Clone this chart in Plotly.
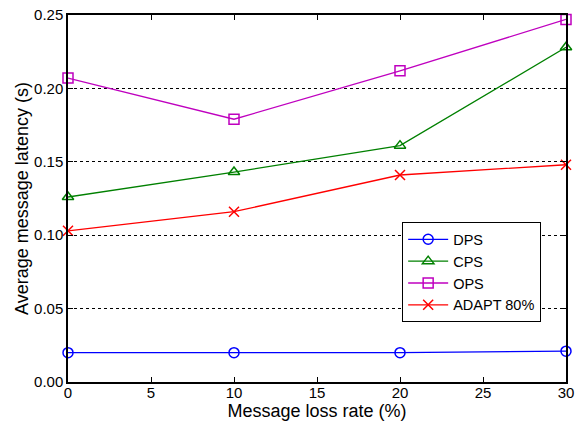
import plotly.graph_objects as go

loss_rate = [0, 10, 20, 30]
dps = [0.020, 0.020, 0.020, 0.021]
cps = [0.126, 0.143, 0.161, 0.228]
ops = [0.207, 0.179, 0.212, 0.247]
adapt = [0.103, 0.116, 0.141, 0.148]

series = [
    ("DPS", dps, "#0000ff", "circle-open"),
    ("CPS", cps, "#008000", "triangle-up-open"),
    ("OPS", ops, "#bf00bf", "square-open"),
    ("ADAPT 80%", adapt, "#ff0000", "x-thin-open"),
]

fig = go.Figure()
for name, vals, color, sym in series:
    fig.add_trace(go.Scatter(
        x=loss_rate, y=vals, name=name, mode="lines+markers",
        line=dict(color=color, width=1.3),
        marker=dict(symbol=sym, size=10, color=color,
                    line=dict(color=color, width=1.5)),
        cliponaxis=False,
    ))

font = "Liberation Sans, Arial, sans-serif"
fig.update_layout(
    width=586, height=424,
    margin=dict(l=68, r=20, t=15, b=42),
    plot_bgcolor="white", paper_bgcolor="white",
    font=dict(family=font, size=15, color="black"),
    showlegend=True,
    legend=dict(x=0.671, y=0.435, xanchor="left", yanchor="top",
                bordercolor="black", borderwidth=1, bgcolor="white",
                font=dict(size=14.5), tracegroupgap=0, itemwidth=40),
    xaxis=dict(range=[0, 30], tickvals=[0, 5, 10, 15, 20, 25, 30],
               ticks="inside", ticklen=5, tickcolor="black", automargin=False,
               ticklabelstandoff=-4,
               showline=True, linecolor="black", linewidth=1.5, mirror="allticks",
               showgrid=False, zeroline=False,
               title=dict(text="Message loss rate (%)", font=dict(size=18), standoff=5)),
    yaxis=dict(range=[0, 0.25], tickvals=[0, 0.05, 0.10, 0.15, 0.20, 0.25],
               tickformat=".2f", automargin=False,
               ticks="inside", ticklen=5, tickcolor="black",
               showline=True, linecolor="black", linewidth=1.5, mirror="allticks",
               showgrid=True, gridcolor="black", griddash="dot", gridwidth=1,
               zeroline=False,
               title=dict(text="Average message latency (s)", font=dict(size=18), standoff=1)),
)

fig.write_html("out.html")
